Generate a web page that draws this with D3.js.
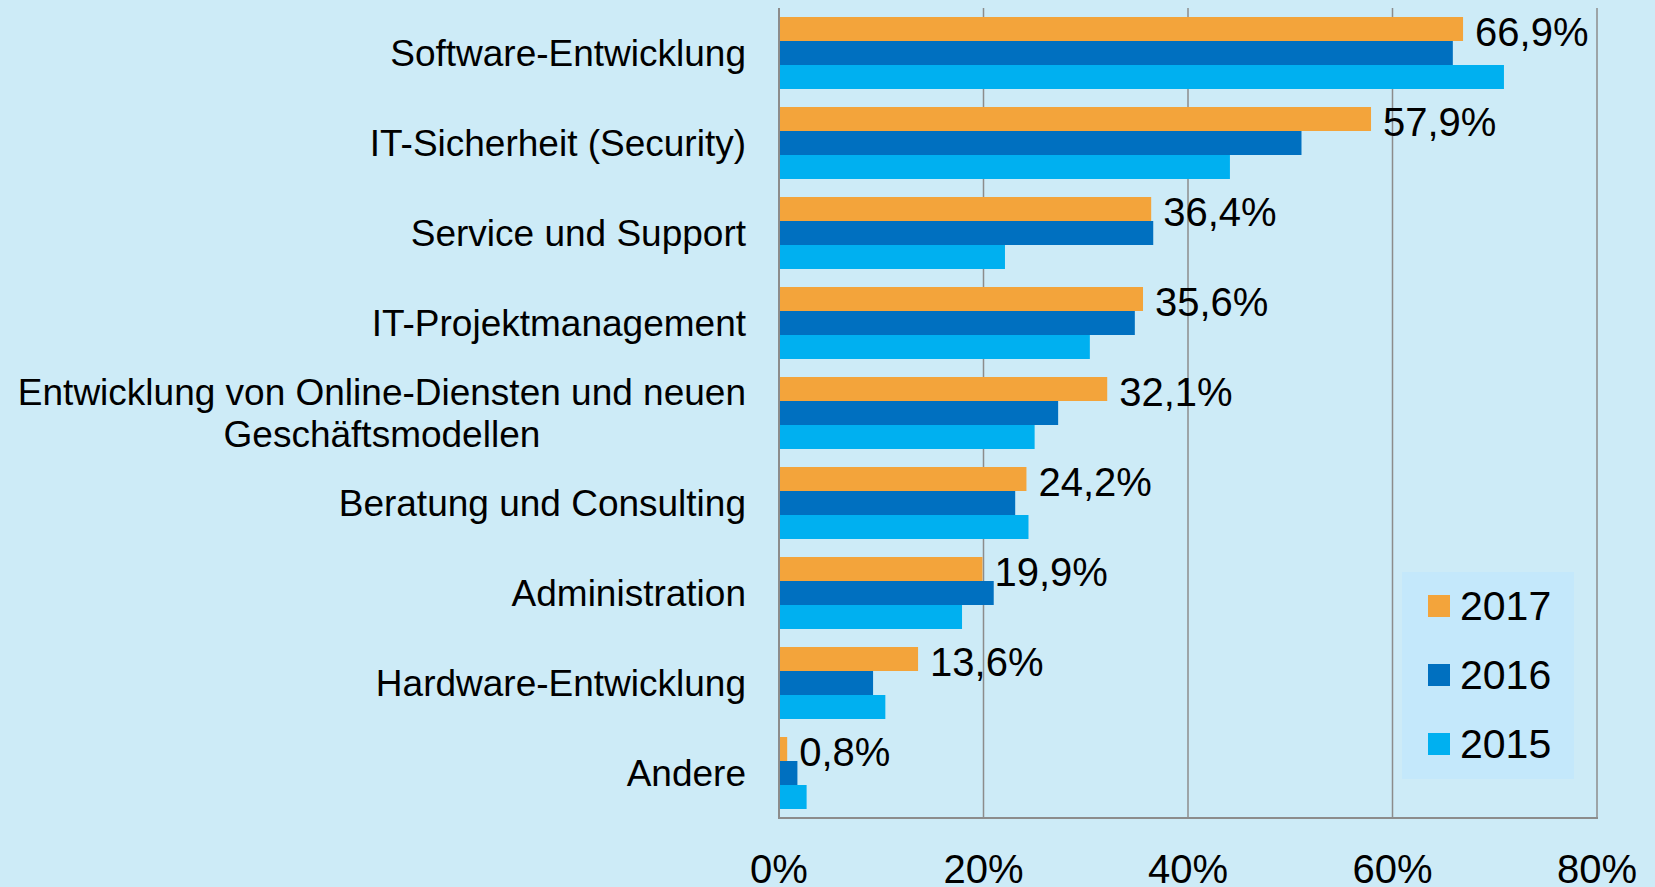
<!DOCTYPE html>
<html>
<head>
<meta charset="utf-8">
<script src="https://cdn.jsdelivr.net/npm/d3@7"></script>
<style>
  html, body { margin: 0; padding: 0; background: #cdebf7; }
  svg { display: block; font-family: "Liberation Sans", Arial, sans-serif; }
</style>
</head>
<body>
<svg id="chart" width="1655" height="887"></svg>
<script>
const categories = [
  ["Software-Entwicklung"],
  ["IT-Sicherheit (Security)"],
  ["Service und Support"],
  ["IT-Projektmanagement"],
  ["Entwicklung von Online-Diensten und neuen", "Geschäftsmodellen"],
  ["Beratung und Consulting"],
  ["Administration"],
  ["Hardware-Entwicklung"],
  ["Andere"]
];
const seriesNames = ["2017", "2016", "2015"];
const values2017 = [66.9, 57.9, 36.4, 35.6, 32.1, 24.2, 19.9, 13.6, 0.8];
const values2016 = [65.9, 51.1, 36.6, 34.8, 27.3, 23.1, 21.0, 9.2, 1.8];
const values2015 = [70.9, 44.1, 22.1, 30.4, 25.0, 24.4, 17.9, 10.4, 2.7];
const labels2017 = ["66,9%", "57,9%", "36,4%", "35,6%", "32,1%", "24,2%", "19,9%", "13,6%", "0,8%"];
const tickValues = [0, 20, 40, 60, 80];
const tickLabels = ["0%", "20%", "40%", "60%", "80%"];

const colors = { "2017": "#f3a43b", "2016": "#0070c0", "2015": "#00b0f0" };
const seriesValues = { "2017": values2017, "2016": values2016, "2015": values2015 };

const svg = d3.select("#chart");
const plotTop = 8, plotBottom = 818;
const x = d3.scaleLinear().domain([0, 80]).range([779, 1597]);
const catKeys = categories.map((c, i) => i);
const y = d3.scaleBand().domain(catKeys).range([plotTop, plotBottom]).paddingInner(0.2).paddingOuter(0.1);
const ySub = d3.scaleBand().domain(seriesNames).range([0, y.bandwidth()]);

// gridlines
svg.append("g").selectAll("line").data(tickValues.slice(1)).join("line")
  .attr("x1", d => x(d)).attr("x2", d => x(d))
  .attr("y1", plotTop).attr("y2", plotBottom)
  .attr("stroke", "#8c8c8c").attr("stroke-width", 1.5);

// bars
const groups = svg.append("g").selectAll("g").data(catKeys).join("g")
  .attr("transform", d => `translate(0,${y(d)})`);
groups.selectAll("rect").data(i => seriesNames.map(s => ({ s, v: seriesValues[s][i] }))).join("rect")
  .attr("x", x(0))
  .attr("y", d => ySub(d.s))
  .attr("width", d => x(d.v) - x(0))
  .attr("height", ySub.bandwidth())
  .attr("fill", d => colors[d.s]);

// axes lines
svg.append("line").attr("x1", x(0)).attr("x2", x(0)).attr("y1", plotTop).attr("y2", plotBottom)
  .attr("stroke", "#8c8c8c").attr("stroke-width", 2);
svg.append("line").attr("x1", x(0) - 1).attr("x2", x(80) + 1).attr("y1", plotBottom).attr("y2", plotBottom)
  .attr("stroke", "#8c8c8c").attr("stroke-width", 2);

// value labels for 2017
svg.append("g").selectAll("text").data(catKeys).join("text")
  .attr("x", i => x(values2017[i]) + 12)
  .attr("y", i => y(i) + ySub("2017") + ySub.bandwidth() / 2 + 2.5)
  .attr("dy", "0.35em")
  .attr("font-size", 40)
  .attr("fill", "#000")
  .text(i => labels2017[i]);

// category labels
const catG = svg.append("g");
categories.forEach((lines, i) => {
  const cy = y(i) + y.bandwidth() / 2;
  const lh = 42;
  const t = catG.append("text").attr("font-size", 37).attr("fill", "#000");
  const tspans = lines.map((l, k) => t.append("tspan").text(l)
    .attr("y", cy + (k - (lines.length - 1) / 2) * lh).attr("dy", "0.35em"));
  if (lines.length === 1) {
    t.attr("text-anchor", "end");
    tspans[0].attr("x", 746);
  } else {
    const maxW = d3.max(tspans, ts => ts.node().getComputedTextLength());
    t.attr("text-anchor", "middle");
    tspans.forEach(ts => ts.attr("x", 746 - maxW / 2));
  }
});

// x tick labels
svg.append("g").selectAll("text").data(tickValues).join("text")
  .attr("x", d => x(d))
  .attr("y", 883)
  .attr("text-anchor", "middle")
  .attr("font-size", 40)
  .attr("fill", "#000")
  .text((d, i) => tickLabels[i]);

// legend
const lg = svg.append("g");
lg.append("rect").attr("x", 1402).attr("y", 572).attr("width", 172).attr("height", 207).attr("fill", "#c4e8fb");
seriesNames.forEach((s, k) => {
  const yy = 595 + k * 69;
  lg.append("rect").attr("x", 1428).attr("y", yy).attr("width", 22).attr("height", 22).attr("fill", colors[s]);
  lg.append("text").attr("x", 1460).attr("y", yy + 11).attr("dy", "0.35em")
    .attr("font-size", 41).attr("fill", "#000").text(s);
});
</script>
</body>
</html>
